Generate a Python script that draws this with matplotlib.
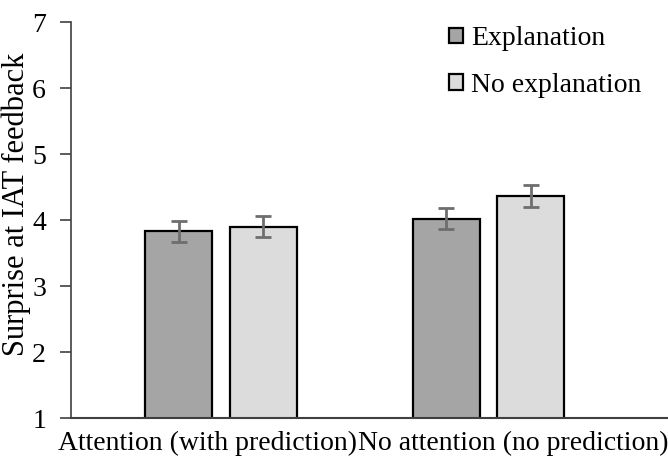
import numpy as np
import matplotlib.pyplot as plt

plt.rcParams['font.family'] = ['Liberation Serif', 'DejaVu Serif']

# data
groups = ['Attention (with prediction)', 'No attention (no prediction)']
series = ['Explanation', 'No explanation']
explanation = [3.83, 4.02]
no_explanation = [3.90, 4.36]
err_expl = [0.16, 0.16]
err_noexpl = [0.155, 0.17]

colors = ['#a5a5a5', '#dcdcdc']
fs = 20

fig = plt.figure(figsize=(6.68, 4.63), dpi=100)
ax = fig.add_axes([71 / 668, 45 / 463, (668 - 71) / 668, 396 / 463])

x = np.arange(len(groups))
w = 0.25
off = 0.158
ekw = dict(ecolor='#6e6e6e', elinewidth=2, capsize=5.5, capthick=2)
ax.bar(x - off, explanation, w, bottom=0, color=colors[0], edgecolor='black',
       linewidth=1.6, yerr=err_expl, error_kw=ekw, label=series[0])
ax.bar(x + off, no_explanation, w, bottom=0, color=colors[1], edgecolor='black',
       linewidth=1.6, yerr=err_noexpl, error_kw=ekw, label=series[1])

ax.set_ylim(1, 7)
ax.set_xlim(-0.561, 1.671)
ax.set_yticks(range(1, 8))
ax.set_xticks([-0.052, 1.092])
ax.set_xticklabels(groups)
ax.tick_params(axis='x', length=0, labelsize=fs, pad=9)
ax.tick_params(axis='y', length=8, width=1.2, color='#404040', labelsize=fs, pad=10)
ax.set_ylabel('Surprise at IAT feedback', fontsize=22)
ax.yaxis.set_label_coords(-0.067, 0.54)

for s in ['top', 'right']:
    ax.spines[s].set_visible(False)
ax.spines['left'].set_color('#404040')
ax.spines['left'].set_linewidth(1.2)
ax.spines['bottom'].set_color('#404040')
ax.spines['bottom'].set_linewidth(1.5)

ax.legend(loc='upper left', bbox_to_anchor=(0.615, 1.017), frameon=False,
          fontsize=fs, handlelength=0.5, handleheight=0.5, handletextpad=0.3,
          labelspacing=0.77, borderaxespad=0)

fig.savefig('out.png', dpi=100)
